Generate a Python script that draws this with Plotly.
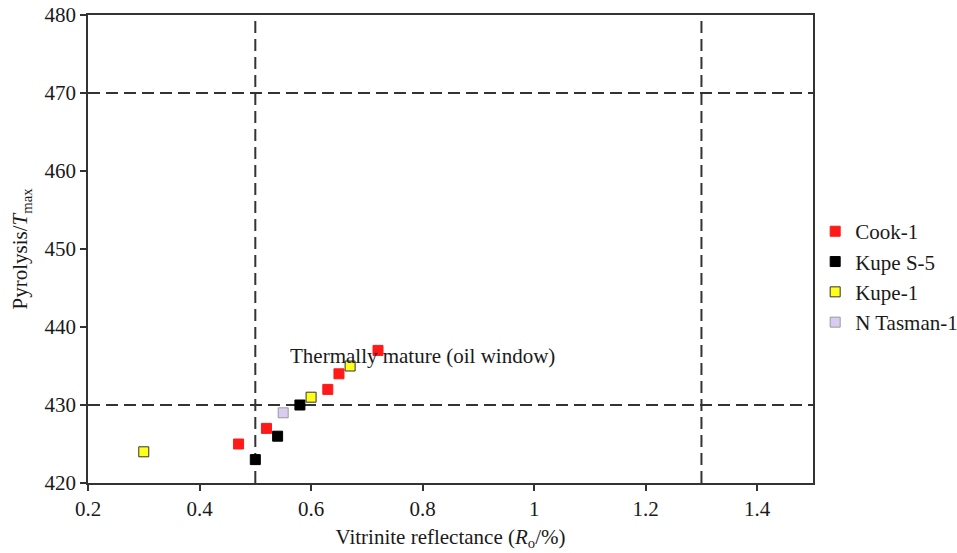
import plotly.graph_objects as go

# Vitrinite reflectance (Ro, %) vs pyrolysis Tmax (°C) per well
cook1_ro = [0.47, 0.52, 0.63, 0.65, 0.72]
cook1_tmax = [425, 427, 432, 434, 437]

kupes5_ro = [0.50, 0.54, 0.58]
kupes5_tmax = [423, 426, 430]

kupe1_ro = [0.30, 0.60, 0.67]
kupe1_tmax = [424, 431, 435]

ntasman1_ro = [0.55]
ntasman1_tmax = [429]

# Maturity window boundaries
ro_limits = [0.5, 1.3]
tmax_limits = [430, 470]

x_ticks = [0.2, 0.4, 0.6, 0.8, 1.0, 1.2, 1.4]
x_tick_text = ["0.2", "0.4", "0.6", "0.8", "1", "1.2", "1.4"]
y_ticks = [420, 430, 440, 450, 460, 470, 480]

FONT = "Times New Roman, Liberation Serif, serif"
FS = 21
TEXT_COLOR = "#1a1a1a"
AXIS_COLOR = "#333333"

fig = go.Figure()

series = [
    ("Cook-1", cook1_ro, cook1_tmax, "#ff1a1a", "#ff1a1a"),
    ("Kupe S-5", kupes5_ro, kupes5_tmax, "#000000", "#000000"),
    ("Kupe-1", kupe1_ro, kupe1_tmax, "#ffff1a", "#333333"),
    ("N Tasman-1", ntasman1_ro, ntasman1_tmax, "#d8cdf0", "#9a9a9a"),
]
for name, xs, ys, fill, edge in series:
    fig.add_trace(go.Scatter(
        x=xs, y=ys, mode="markers", name=name,
        marker=dict(symbol="square", size=10, color=fill,
                    line=dict(color=edge, width=1)),
    ))

dash_line = dict(color=AXIS_COLOR, width=2, dash="12px,6px")
for ro in ro_limits:
    fig.add_shape(type="line", xref="x", yref="y", x0=ro, x1=ro, y0=420, y1=480,
                  line=dash_line, layer="below")
for t in tmax_limits:
    fig.add_shape(type="line", xref="x", yref="y", x0=0.2, x1=1.5, y0=t, y1=t,
                  line=dash_line, layer="below")

fig.add_annotation(x=0.8, y=436.3, xref="x", yref="y", showarrow=False,
                   text="Thermally mature (oil window)",
                   font=dict(family=FONT, size=FS, color=TEXT_COLOR))

axis_common = dict(
    showline=True, linecolor=AXIS_COLOR, linewidth=1.5, mirror=True,
    ticks="outside", ticklen=6, tickwidth=1.5, tickcolor=AXIS_COLOR,
    showgrid=False, zeroline=False, automargin=False,
    tickfont=dict(family=FONT, size=FS, color=TEXT_COLOR),
)

fig.update_xaxes(range=[0.2, 1.5], tickvals=x_ticks, ticktext=x_tick_text,
                 title=dict(text="Vitrinite reflectance (<i>R</i><sub>o</sub>/%)",
                            font=dict(family=FONT, size=FS, color=TEXT_COLOR),
                            standoff=9),
                 **axis_common)
fig.update_yaxes(range=[420, 480], tickvals=y_ticks,
                 title=dict(text="Pyrolysis/<i>T</i><sub>max</sub>",
                            font=dict(family=FONT, size=FS, color=TEXT_COLOR),
                            standoff=11),
                 **axis_common)

fig.update_layout(
    width=957, height=553,
    margin=dict(l=88, r=144, t=15, b=70, autoexpand=False),
    plot_bgcolor="white", paper_bgcolor="white",
    showlegend=True,
    font=dict(family=FONT, size=FS, color=TEXT_COLOR),
    legend=dict(x=1.003, y=0.581, xanchor="left", yanchor="top",
                font=dict(family=FONT, size=FS, color=TEXT_COLOR),
                bgcolor="rgba(0,0,0,0)", itemwidth=30),
)

fig.write_html("out.html")
